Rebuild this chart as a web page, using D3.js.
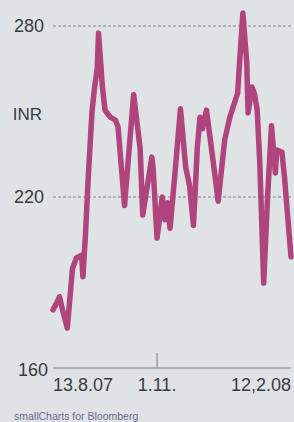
<!DOCTYPE html>
<html lang="en">
<head>
<meta charset="UTF-8">
<title>INR</title>
<script src="https://d3js.org/d3.v7.min.js"></script>
<style>
  html, body { margin: 0; padding: 0; background: #dfe3e5; }
  svg { display: block; }
</style>
</head>
<body>
<div id="chart"></div>
<script>
// data
var dates = ["2007-08-13","2007-08-16","2007-08-18","2007-08-20","2007-08-24","2007-08-28","2007-08-31",
  "2007-09-04","2007-09-05","2007-09-07","2007-09-09","2007-09-12","2007-09-14","2007-09-16","2007-09-17",
  "2007-09-20","2007-09-22","2007-09-26","2007-09-30","2007-10-02","2007-10-07","2007-10-14","2007-10-19",
  "2007-10-21","2007-10-28","2007-10-29","2007-11-01","2007-11-05","2007-11-07","2007-11-09","2007-11-11",
  "2007-11-15","2007-11-19","2007-11-23","2007-11-26","2007-11-29","2007-12-02","2007-12-04","2007-12-06",
  "2007-12-09","2007-12-14","2007-12-18","2007-12-23","2007-12-27","2008-01-02","2008-01-03","2008-01-06",
  "2008-01-09","2008-01-10","2008-01-13","2008-01-15","2008-01-17","2008-01-19","2008-01-22","2008-01-25",
  "2008-01-28","2008-01-31","2008-02-01","2008-02-05","2008-02-07","2008-02-12"];
var prices = [180.4,183,185,181,174,195,198.6,
  199.6,192,207,226,250,258.6,265,277.5,
  258.6,250.5,248,247,244.6,217,256,237,
  213.7,234,230,205.6,220,212,218,209,
  229.5,251,230.5,224,210,237.5,248,244,
  250.5,233,218.5,240,248,256.5,264,284.6,
  267,249.5,258.6,256,250.5,232,189.8,220,
  245,228.4,236.5,235.8,227,199];
var yTicks = [160, 220, 280];
var xTickDates = ["2007-08-13", "2007-11-01", "2008-02-12"];
var xTickLabels = ["13.8.07", "1.11.", "12,2.08"];
var unitLabel = "INR";
var source = "smallCharts for Bloomberg";

var W = 294, H = 422;
var margin = {top: 26, right: 3, bottom: 54, left: 53};
var width = W - margin.left - margin.right,
    height = H - margin.top - margin.bottom;

var parse = d3.timeParse("%Y-%m-%d");
var data = dates.map(function(d, i) { return {date: parse(d), value: prices[i]}; });

var svg = d3.select("#chart").append("svg")
    .attr("width", W)
    .attr("height", H);
var g = svg.append("g")
    .attr("transform", "translate(" + margin.left + "," + margin.top + ")");

var x = d3.scaleTime()
    .domain([parse(xTickDates[0]), parse(xTickDates[2])])
    .range([0, width]);
var y = d3.scaleLinear()
    .domain([160, 280])
    .range([height, 0]);

var font = "'Liberation Sans', Arial, sans-serif";

// grid lines
g.selectAll(".grid").data(yTicks).enter().append("line")
    .attr("x1", 0).attr("x2", width)
    .attr("y1", function(d) { return y(d); })
    .attr("y2", function(d) { return y(d); })
    .attr("stroke", function(d) { return d == 160 ? "#7d7f80" : "#80839a"; })
    .attr("stroke-width", 1)
    .attr("stroke-dasharray", function(d) { return d == 160 ? null : "3,2"; });

// y labels
g.selectAll(".ylab").data(yTicks).enter().append("text")
    .attr("x", function(d) { return d == 160 ? -5 : -9; })
    .attr("y", function(d) { return y(d) + (d == 160 ? 8 : 6); })
    .attr("text-anchor", "end")
    .attr("font-family", font)
    .attr("font-size", 18)
    .attr("fill", "#3a3b3d")
    .text(function(d) { return d; });

g.append("text")
    .attr("x", -11).attr("y", y(249) + 6)
    .attr("text-anchor", "end")
    .attr("font-family", font)
    .attr("font-size", 17)
    .attr("fill", "#3a3b3d")
    .text(unitLabel);

// x axis tick + labels
g.append("line")
    .attr("x1", x(parse(xTickDates[1]))).attr("x2", x(parse(xTickDates[1])))
    .attr("y1", height - 15).attr("y2", height)
    .attr("stroke", "#7d7f80").attr("stroke-width", 1);

g.selectAll(".xlab").data(xTickDates).enter().append("text")
    .attr("x", function(d) { return x(parse(d)); })
    .attr("y", height + 23)
    .attr("text-anchor", function(d, i) { return i == 0 ? "start" : (i == 1 ? "middle" : "end"); })
    .attr("font-family", font)
    .attr("font-size", 18)
    .attr("fill", "#3a3b3d")
    .text(function(d, i) { return xTickLabels[i]; });

// the line
var line = d3.line()
    .x(function(d) { return x(d.date); })
    .y(function(d) { return y(d.value); });

g.append("path")
    .datum(data)
    .attr("fill", "none")
    .attr("stroke", "#b0447c")
    .attr("stroke-width", 5.5)
    .attr("stroke-linejoin", "round")
    .attr("stroke-linecap", "round")
    .attr("d", line);

// source
svg.append("text")
    .attr("x", 14).attr("y", 420)
    .attr("font-family", font)
    .attr("font-size", 10.5)
    .attr("fill", "#6a6c92")
    .text(source);
</script>
</body>
</html>
